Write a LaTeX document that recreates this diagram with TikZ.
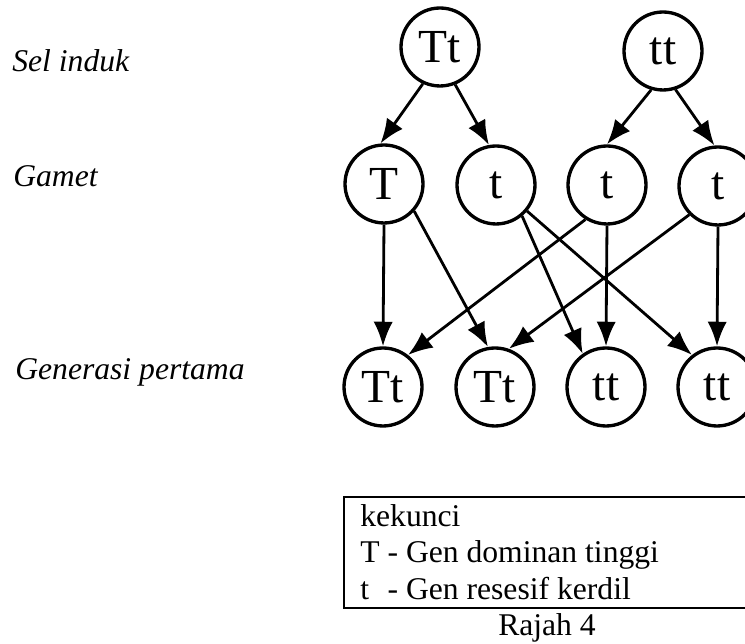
\documentclass[tikz,border=0pt]{standalone}
\usepackage{fontspec}
\setmainfont{Liberation Serif}
\usetikzlibrary{arrows.meta,positioning}
\newcommand{\gsize}{\fontsize{27}{27}\selectfont}
\newcommand{\lsize}{\fontsize{18}{20.8}\selectfont}

\begin{document}
\begin{tikzpicture}[x=0.02cm,y=-0.02cm,
    gen/.style={circle,draw,line width=1.9pt,minimum size=1.56cm,inner sep=0pt,font=\gsize},
    lbl/.style={anchor=base west,inner sep=0pt,font=\lsize\itshape},
    keyline/.style={anchor=base west,inner sep=0pt,font=\lsize},
    link/.style={line width=1.6pt,-{Latex[length=14pt,width=11pt]}}]
  \useasboundingbox (0,0) rectangle (745,644);

  % baris label
  \node[lbl] (sel) at (12,72) {Sel induk};
  \node[lbl] (gam) at (13,187) {Gamet};
  \node[lbl] (gen) at (15,380) {Generasi pertama};

  % sel induk
  \node[gen] (pTt) at (440,47) {Tt};
  \node[gen] (ptt) at (663,51) {tt};

  % gamet
  \node[gen] (gT)  at (384,184) {T};
  \node[gen] (gt1) at (496,185) {t};
  \node[gen] (gt2) at (607,185) {t};
  \node[gen] (gt3) at (718,186) {t};

  % generasi pertama
  \node[gen] (fTt1) at (383,387) {Tt};
  \node[gen] (fTt2) at (495,387) {Tt};
  \node[gen] (ftt1) at (606,387) {tt};
  \node[gen] (ftt2) at (717,387) {tt};

  \draw[link] (pTt.-115) -- (gT.95);
  \draw[link] (pTt.-68) -- (gt1.100);
  \draw[link] (ptt.-107) -- (gt2.90);
  \draw[link] (ptt.-72) -- (gt3.95);

  \draw[link] (gT.south) -- (fTt1.north);
  \draw[link] (gT.-42) -- (fTt2.100);
  \draw[link] (gt1.-50) -- (ftt1.125);
  \draw[link] (gt1.-40) -- (ftt2.128);
  \draw[link] (gt2.-122) -- (fTt1.52);
  \draw[link] (gt2.south) -- (ftt1.north);
  \draw[link] (gt3.-135) -- (fTt2.70);
  \draw[link] (gt3.south) -- (ftt2.north);

  % kekunci
  \draw[line width=1.1pt] (344,497) rectangle (752,608);
  \node[keyline] (key)  at (360,527) {kekunci};
  \node[keyline] (keyT) at (360,563) {T - Gen dominan tinggi};
  \node[keyline] (keyt) at (360,600) {\makebox[0.611em][l]{t} - Gen resesif kerdil};
  \node[anchor=base,inner sep=0pt,font=\lsize] (cap) at (547,636) {Rajah 4};
\end{tikzpicture}
\end{document}
